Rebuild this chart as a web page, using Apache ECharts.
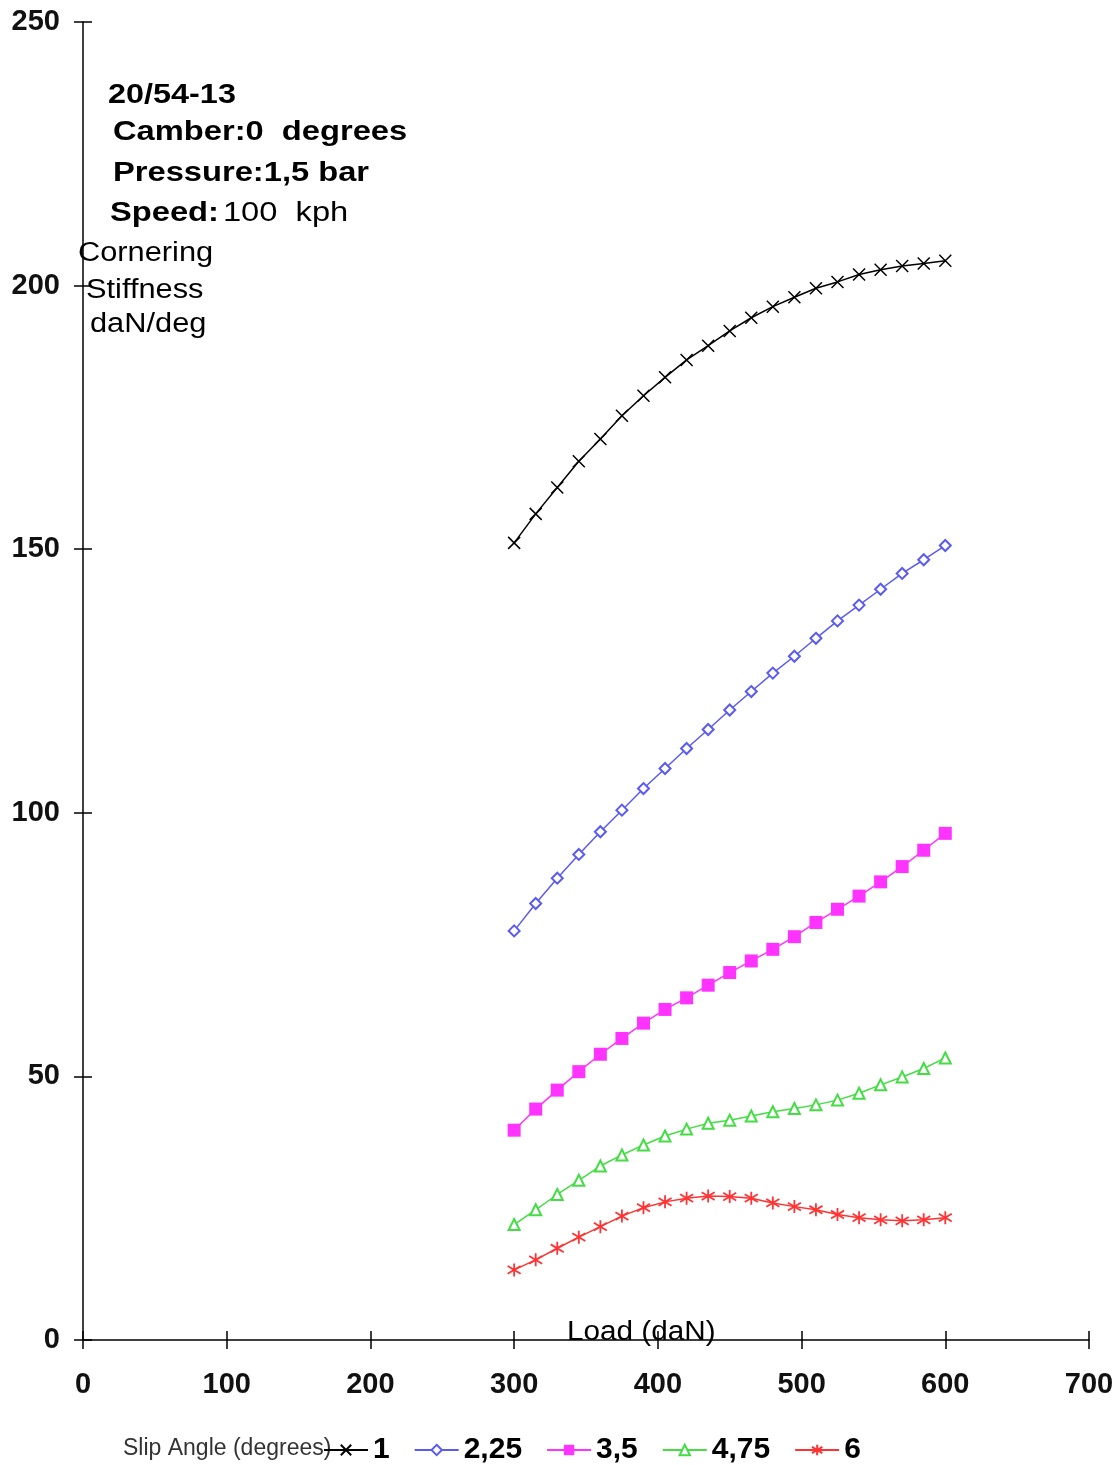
<!DOCTYPE html>
<html>
<head>
<meta charset="utf-8">
<script src="https://cdn.jsdelivr.net/npm/echarts@6/dist/echarts.min.js"></script>
<style>html,body{margin:0;padding:0;background:#fff}#c{width:1120px;height:1465px}</style>
</head>
<body>
<div id="c"></div>
<script>
var loads = [300,315,330,345,360,375,390,405,420,435,450,465,480,495,510,525,540,555,570,585,600];
var slip1    = [151.2,156.7,161.7,166.7,170.9,175.3,179.1,182.6,185.9,188.6,191.4,193.9,196.0,197.8,199.5,200.7,202.1,203.0,203.7,204.2,204.7];
var slip225  = [77.6,82.8,87.6,92.1,96.4,100.5,104.6,108.4,112.2,115.8,119.5,123.0,126.5,129.7,133.1,136.4,139.4,142.4,145.4,148.0,150.7];
var slip35   = [39.8,43.8,47.4,50.9,54.2,57.2,60.1,62.7,64.9,67.3,69.7,71.9,74.1,76.5,79.2,81.7,84.2,86.9,89.8,92.9,96.1];
var slip475  = [21.9,24.7,27.6,30.3,33.0,35.1,37.0,38.7,40.0,41.1,41.7,42.5,43.3,43.9,44.6,45.5,46.8,48.4,49.9,51.5,53.5];
var slip6    = [13.3,15.2,17.4,19.5,21.5,23.5,25.1,26.2,26.9,27.3,27.2,26.9,26.0,25.3,24.7,23.8,23.2,22.8,22.6,22.8,23.2];
var seriesNames = ['1','2,25','3,5','4,75','6'];
var xTicks = [0,100,200,300,400,500,600,700];
var yTicks = [0,50,100,150,200,250];

function pairs(vals){ return loads.map(function(l,i){ return [l, vals[i]]; }); }

var FONT = '"Liberation Sans", Arial, sans-serif';
var chart = echarts.init(document.getElementById('c'));

var axisCommon = {
  type: 'value',
  splitLine: {show:false},
  axisLine: {show:true, lineStyle:{color:'#000', width:1.5}},
  axisTick: {show:true, length:9, lineStyle:{color:'#000', width:1.5}}
};

var opt = {
  animation: false,
  backgroundColor: '#fff',
  grid: {left:83, right:31, top:22, bottom:125, containLabel:false},
  xAxis: [
    Object.assign({}, axisCommon, {
      min: xTicks[0], max: xTicks[xTicks.length-1], interval: 100, position:'bottom',
      axisLabel: {color:'#111', fontFamily:FONT, fontSize:29, margin:30, fontWeight:'bold'}
    }),
    Object.assign({}, axisCommon, {
      min: xTicks[0], max: xTicks[xTicks.length-1], interval: 100, position:'bottom',
      axisLine:{show:false},
      axisTick:{show:true, inside:true, length:9, lineStyle:{color:'#000', width:1.5}},
      axisLabel:{show:false}
    })
  ],
  yAxis: [
    Object.assign({}, axisCommon, {
      min: yTicks[0], max: yTicks[yTicks.length-1], interval: 50, position:'left',
      axisLabel: {color:'#111', fontFamily:FONT, fontSize:29, margin:23, fontWeight:'bold'}
    }),
    Object.assign({}, axisCommon, {
      min: yTicks[0], max: yTicks[yTicks.length-1], interval: 50, position:'left',
      axisLine:{show:false},
      axisTick:{show:true, inside:true, length:9, lineStyle:{color:'#000', width:1.5}},
      axisLabel:{show:false}
    })
  ],
  legend: {
    left: 318, top: 1430,
    itemWidth: 44, itemHeight: 13, itemGap: 24,
    textStyle: {color:'#000', fontFamily:FONT, fontSize:30, fontWeight:'bold'},
    data: seriesNames
  },
  graphic: [
    {type:'text', left:108, top:82, scaleX:1.2, style:{text:'20/54-13', font:'bold 27px Liberation Sans', fill:'#000'}},
    {type:'text', left:113, top:119, scaleX:1.21, style:{text:'Camber:0  degrees', font:'bold 27px Liberation Sans', fill:'#000'}},
    {type:'text', left:113, top:160, scaleX:1.21, style:{text:'Pressure:1,5 bar', font:'bold 27px Liberation Sans', fill:'#000'}},
    {type:'text', left:110, top:200, scaleX:1.21, style:{
      text:'{b|Speed:} {n|100  kph}',
      rich:{b:{font:'bold 27px Liberation Sans', fill:'#000'}, n:{font:'27px Liberation Sans', fill:'#000'}}
    }},
    {type:'text', left:78, top:240, scaleX:1.14, style:{text:'Cornering', font:'27px Liberation Sans', fill:'#000'}},
    {type:'text', left:86, top:277, scaleX:1.14, style:{text:'Stiffness', font:'27px Liberation Sans', fill:'#000'}},
    {type:'text', left:90, top:311, scaleX:1.14, style:{text:'daN/deg', font:'27px Liberation Sans', fill:'#000'}},
    {type:'text', left:567, top:1319, scaleX:1.1, style:{text:'Load (daN)', font:'27px Liberation Sans', fill:'#000'}},
    {type:'text', left:123, top:1437, style:{text:'Slip Angle (degrees)', font:'23px Liberation Sans', fill:'#333'}}
  ],
  series: [
    {name:seriesNames[0], type:'line', data:pairs(slip1), color:'#000',
     symbol:'path://M0,0L10,10M10,0L0,10', symbolSize:12,
     lineStyle:{width:1.5, color:'#000'}, itemStyle:{color:'#000', borderColor:'#000', borderWidth:1.5}},
    {name:seriesNames[1], type:'line', data:pairs(slip225), color:'#5b5bf0',
     symbol:'emptyDiamond', symbolSize:11,
     lineStyle:{width:1.5, color:'#5b5bf0'}, itemStyle:{color:'#5b5bf0', borderColor:'#5b5bf0', borderWidth:1.5}},
    {name:seriesNames[2], type:'line', data:pairs(slip35), color:'#ff33ff',
     symbol:'rect', symbolSize:13,
     lineStyle:{width:1.5, color:'#ff33ff'}, itemStyle:{color:'#ff33ff'}},
    {name:seriesNames[3], type:'line', data:pairs(slip475), color:'#44dd44',
     symbol:'emptyTriangle', symbolSize:11,
     lineStyle:{width:1.5, color:'#44dd44'}, itemStyle:{color:'#44dd44', borderColor:'#44dd44', borderWidth:1.5}},
    {name:seriesNames[4], type:'line', data:pairs(slip6), color:'#ff3333',
     symbol:'path://M5,0L5,10M0,2L10,8M0,8L10,2', symbolSize:13,
     lineStyle:{width:1.5, color:'#ff3333'}, itemStyle:{color:'#ff3333', borderColor:'#ff3333', borderWidth:1.8}}
  ]
};
chart.setOption(opt);
</script>
</body>
</html>
